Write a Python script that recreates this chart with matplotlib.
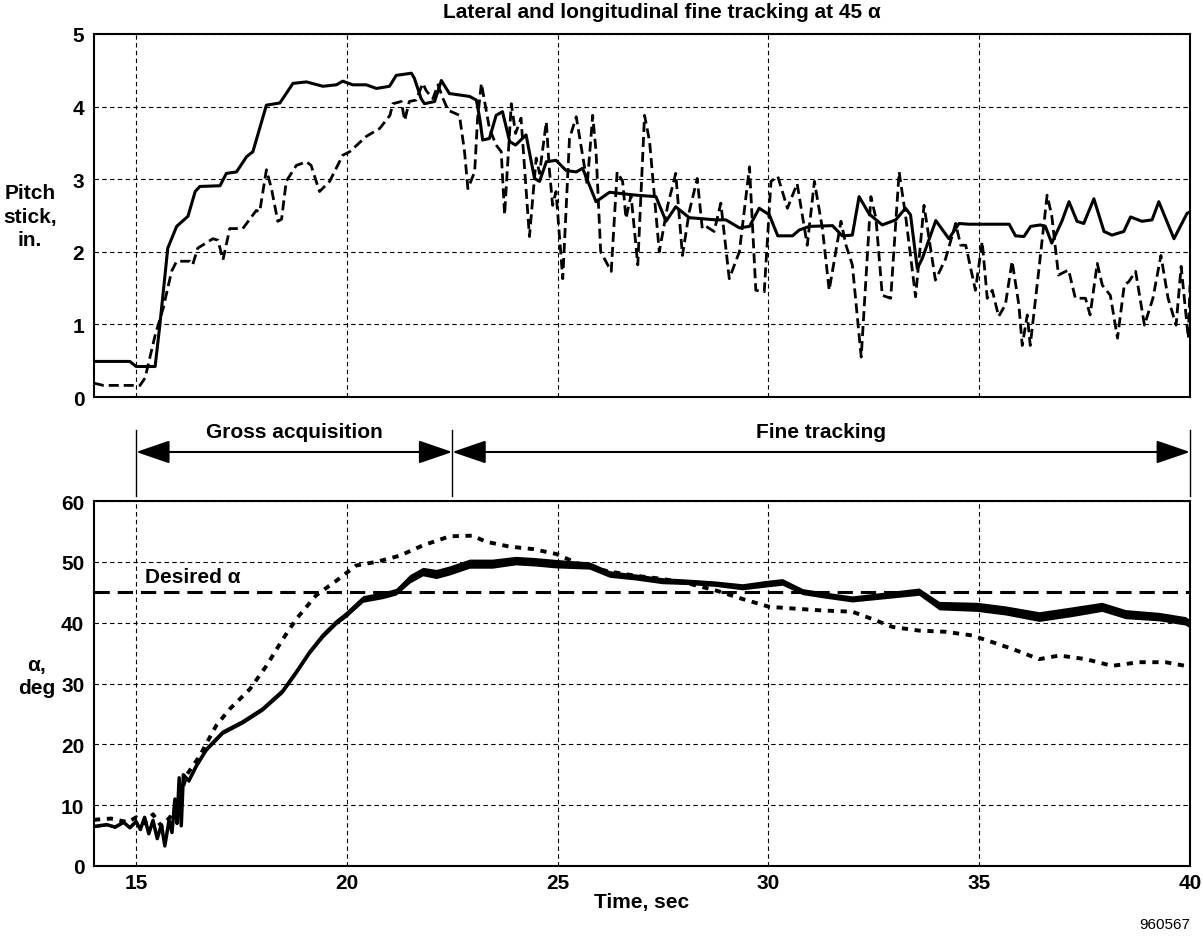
import matplotlib
matplotlib.use("Agg")
import matplotlib.pyplot as plt
import numpy as np

plt.rcParams['font.family'] = ['Liberation Sans', 'DejaVu Sans']
plt.rcParams['font.weight'] = 'bold'

# pitch stick, solid trace (in.)
stick_solid_t = [14.0, 14.85, 15.0, 15.45, 15.56, 15.75, 15.96, 16.23, 16.4, 16.51, 16.99, 17.14,
                 17.38, 17.62, 17.77, 18.09, 18.41, 18.72, 19.04, 19.43, 19.75, 19.9, 20.14, 20.46,
                 20.7, 21.01, 21.17, 21.53, 21.6, 21.76, 21.84, 22.08, 22.24, 22.43, 22.91, 23.07,
                 23.15, 23.22, 23.38, 23.54, 23.69, 23.86, 24.0, 24.25, 24.45, 24.57, 24.73, 24.96,
                 25.2, 25.44, 25.59, 25.91, 26.23, 26.86, 27.33, 27.57, 27.8, 28.12, 28.75, 28.99,
                 29.31, 29.55, 29.78, 30.02, 30.22, 30.57, 30.73, 30.97, 31.52, 31.75, 31.99, 32.15,
                 32.39, 32.7, 33.02, 33.25, 33.37, 33.53, 33.65, 33.97, 34.28, 34.52, 34.76, 35.71,
                 35.86, 36.06, 36.22, 36.45, 36.57, 36.72, 36.96, 37.13, 37.32, 37.48, 37.72, 37.96,
                 38.15, 38.43, 38.59, 38.86, 39.1, 39.26, 39.62, 39.93, 40.0]
stick_solid = [0.49, 0.49, 0.42, 0.42, 0.98, 2.05, 2.35, 2.49, 2.83, 2.90, 2.91, 3.08,
               3.10, 3.31, 3.38, 4.02, 4.05, 4.32, 4.34, 4.28, 4.30, 4.35, 4.30, 4.30,
               4.25, 4.28, 4.43, 4.46, 4.39, 4.11, 4.04, 4.07, 4.36, 4.18, 4.14, 4.09,
               3.84, 3.54, 3.56, 3.88, 3.93, 3.52, 3.47, 3.61, 3.01, 2.97, 3.24, 3.26,
               3.12, 3.10, 3.15, 2.69, 2.82, 2.78, 2.76, 2.42, 2.62, 2.47, 2.44, 2.44,
               2.33, 2.35, 2.60, 2.51, 2.22, 2.22, 2.30, 2.35, 2.36, 2.22, 2.23, 2.76,
               2.52, 2.37, 2.44, 2.60, 2.51, 1.77, 1.91, 2.43, 2.18, 2.39, 2.38, 2.38,
               2.22, 2.21, 2.35, 2.37, 2.35, 2.12, 2.42, 2.69, 2.42, 2.39, 2.73, 2.28,
               2.23, 2.28, 2.48, 2.42, 2.44, 2.69, 2.18, 2.53, 2.55]

# pitch stick, dashed trace (in.)
stick_dash_t = [14.0, 14.22, 15.09, 15.21, 15.45, 15.64, 15.84, 15.96, 16.27, 16.34, 16.46, 16.82,
                16.94, 17.06, 17.22, 17.53, 17.85, 17.93, 18.09, 18.21, 18.36, 18.45, 18.56, 18.8,
                19.04, 19.15, 19.35, 19.59, 19.9, 20.07, 20.46, 20.78, 21.02, 21.09, 21.29, 21.37,
                21.48, 21.64, 21.8, 21.88, 22.04, 22.16, 22.28, 22.4, 22.67, 22.79, 22.87, 23.03,
                23.1, 23.19, 23.38, 23.54, 23.66, 23.74, 23.9, 24.0, 24.13, 24.33, 24.49, 24.57,
                24.73, 24.8, 24.88, 24.96, 25.12, 25.28, 25.44, 25.63, 25.7, 25.83, 25.91, 26.02,
                26.27, 26.41, 26.54, 26.62, 26.74, 26.9, 27.06, 27.18, 27.41, 27.61, 27.8, 27.96,
                28.12, 28.31, 28.43, 28.52, 28.71, 28.87, 29.07, 29.31, 29.55, 29.7, 29.9, 30.06,
                30.22, 30.45, 30.68, 30.92, 31.09, 31.28, 31.44, 31.72, 31.84, 31.99, 32.2, 32.43,
                32.55, 32.7, 32.9, 33.1, 33.25, 33.49, 33.69, 33.96, 34.2, 34.44, 34.56, 34.68,
                34.91, 35.07, 35.19, 35.31, 35.46, 35.62, 35.78, 35.94, 36.02, 36.14, 36.21, 36.41,
                36.61, 36.72, 36.88, 37.12, 37.28, 37.52, 37.63, 37.8, 37.92, 38.11, 38.28, 38.44,
                38.55, 38.71, 38.92, 39.12, 39.31, 39.48, 39.67, 39.79, 39.96, 40.0]
stick_dash = [0.19, 0.16, 0.16, 0.26, 0.85, 1.22, 1.73, 1.87, 1.87, 1.82, 2.05, 2.18,
              2.16, 1.89, 2.32, 2.32, 2.57, 2.55, 3.13, 2.87, 2.42, 2.45, 2.97, 3.19,
              3.24, 3.19, 2.83, 2.97, 3.33, 3.38, 3.59, 3.70, 3.88, 4.04, 4.07, 3.81,
              4.07, 4.09, 4.32, 4.22, 4.11, 4.30, 4.11, 3.95, 3.88, 3.38, 2.87, 3.10,
              3.84, 4.32, 3.70, 3.47, 3.38, 2.51, 4.04, 3.63, 3.84, 2.21, 3.29, 3.08,
              3.79, 3.15, 2.64, 2.83, 1.63, 3.56, 3.86, 3.19, 2.92, 3.88, 3.38, 2.00,
              1.73, 3.10, 2.97, 2.46, 2.78, 1.82, 3.88, 3.52, 2.00, 2.64, 3.08, 1.95,
              2.55, 3.01, 2.32, 2.35, 2.28, 2.67, 1.63, 2.00, 3.17, 1.47, 1.45, 2.97,
              3.04, 2.60, 2.94, 2.09, 2.97, 2.32, 1.47, 2.42, 2.09, 1.82, 0.55, 2.76,
              2.46, 1.40, 1.36, 3.10, 2.51, 1.38, 2.64, 1.61, 1.90, 2.39, 2.09, 2.09,
              1.47, 2.14, 1.36, 1.47, 1.11, 1.27, 1.87, 1.27, 0.71, 1.13, 0.71, 1.73,
              2.78, 2.50, 1.68, 1.75, 1.36, 1.36, 1.13, 1.84, 1.54, 1.40, 0.81, 1.54,
              1.59, 1.73, 0.99, 1.36, 1.95, 1.36, 0.99, 1.80, 0.81, 1.54]

# angle of attack, solid trace (deg) and thickness of its noise band
alpha_solid_t = [14.0, 14.3, 14.5, 14.7, 14.85, 15.0, 15.1, 15.2, 15.3, 15.4, 15.5, 15.6, 15.68,
                 15.78, 15.85, 15.92, 15.97, 16.02, 16.07, 16.12, 16.25, 16.43, 16.67, 17.06,
                 17.53, 18.0, 18.48, 18.8, 19.12, 19.43, 19.75, 19.99, 20.38, 20.85, 21.17, 21.49,
                 21.8, 22.12, 22.44, 22.91, 23.45, 24.0, 24.48, 24.95, 25.75, 26.23, 26.86, 27.48,
                 28.12, 28.75, 29.38, 29.94, 30.33, 30.81, 31.37, 31.99, 32.78, 33.57, 34.05,
                 34.95, 35.63, 36.42, 37.2, 37.91, 38.47, 39.26, 39.89, 40.0]
alpha_solid = [6.5, 6.8, 6.4, 7.2, 6.3, 7.3, 6.0, 8.0, 5.3, 7.5, 4.5, 6.8, 3.3,
               7.5, 5.5, 11.0, 7.0, 14.5, 6.6, 15.0, 14.0, 16.5, 19.2, 22.0,
               23.7, 25.8, 28.8, 31.9, 35.2, 37.9, 40.1, 41.4, 43.9, 44.5, 45.1, 47.2,
               48.4, 48.0, 48.6, 49.7, 49.7, 50.2, 50.0, 49.7, 49.4, 48.0, 47.5, 46.9,
               46.7, 46.4, 45.9, 46.4, 46.7, 45.1, 44.5, 43.9, 44.5, 45.1, 42.8,
               42.6, 42.0, 41.0, 41.8, 42.6, 41.4, 41.0, 40.3, 39.8]
alpha_band = [0.4, 0.4, 0.4, 0.4, 0.4, 0.4, 0.4, 0.4, 0.4, 0.4, 0.4, 0.4, 0.4,
              0.4, 0.4, 0.4, 0.4, 0.4, 0.4, 0.4, 0.6, 0.7, 0.7, 0.7,
              0.7, 0.7, 0.8, 0.8, 0.8, 0.9, 0.9, 1.0, 1.1, 1.1, 1.1, 1.4,
              1.4, 1.5, 1.5, 1.5, 1.5, 1.4, 1.4, 1.4, 1.2, 1.1, 1.0, 1.0,
              0.9, 0.9, 1.0, 1.1, 1.1, 1.0, 1.0, 1.0, 1.1, 1.2, 1.4,
              1.5, 1.5, 1.6, 1.6, 1.5, 1.5, 1.4, 1.4, 1.4]

# angle of attack, dashed trace (deg)
alpha_dash_t = [14.0, 14.4, 14.8, 15.0, 15.2, 15.4, 15.6, 15.8, 16.0, 16.2, 16.5, 16.9, 17.22,
                17.7, 18.09, 18.48, 18.8, 19.27, 19.75, 20.22, 20.7, 21.25, 21.8, 22.44, 22.98,
                23.3, 23.86, 24.41, 24.96, 25.59, 26.23, 26.86, 27.48, 28.12, 28.75, 29.38,
                30.02, 30.65, 31.28, 31.99, 32.46, 32.94, 33.57, 34.2, 34.83, 35.31, 35.78,
                36.42, 36.9, 37.53, 38.15, 38.79, 39.42, 39.89, 40.0]
alpha_dash = [7.6, 7.8, 7.2, 8.0, 7.0, 8.5, 6.5, 8.0, 10.5, 15.0, 18.0, 23.1, 25.8,
              29.1, 32.9, 37.3, 40.6, 44.5, 46.9, 49.4, 50.0, 51.0, 52.7, 54.2, 54.3,
              53.3, 52.5, 52.1, 51.3, 49.4, 48.4, 47.7, 47.2, 46.4, 45.3, 43.9,
              42.6, 42.3, 42.0, 41.8, 40.6, 39.3, 38.7, 38.5, 37.9, 36.8, 35.7,
              34.0, 34.6, 34.0, 32.9, 33.5, 33.5, 32.9, 32.5]

desired_alpha = 45
phase_edges = [15, 22.5, 40]
phase_names = ["Gross acquisition", "Fine tracking"]

W, H = 1203, 937
fig = plt.figure(figsize=(W / 100, H / 100), dpi=100)

def box(l, t, r, b):
    return [l / W, 1 - b / H, (r - l) / W, (b - t) / H]

grid_kw = dict(color='black', linestyle=(0, (4, 3)), linewidth=0.8)
FS = 15

def style(ax):
    for s in ax.spines.values():
        s.set_linewidth(1.5)
    ax.tick_params(length=0, labelsize=FS, pad=7)
    ax.set_xlim(14, 40)
    ax.set_xticks([15, 20, 25, 30, 35, 40])
    ax.grid(True, **grid_kw)
    ax.set_axisbelow(True)

ax1 = fig.add_axes(box(94, 35, 1190, 398))
style(ax1)
ax1.set_ylim(0, 5)
ax1.set_yticks(range(6))
ax1.set_xticklabels([])
ax1.plot(stick_dash_t, stick_dash, color='black', lw=2.0, dashes=(3.6, 1.8))
ax1.plot(stick_solid_t, stick_solid, color='black', lw=2.2, solid_joinstyle='round')

ax2 = fig.add_axes(box(94, 502, 1190, 867))
style(ax2)
ax2.set_ylim(0, 60)
ax2.set_yticks(range(0, 61, 10))
ax2.tick_params(axis='x', pad=5)
ax2.axhline(desired_alpha, color='black', lw=2.2, dashes=(5, 2.6))
ax2.text(15.2, 47.6, "Desired \u03b1", fontsize=FS, fontweight='bold', va='center')
lo = np.array(alpha_solid) - np.array(alpha_band) / 2
hi = np.array(alpha_solid) + np.array(alpha_band) / 2
ax2.fill_between(alpha_solid_t, lo, hi, color='black', lw=0)
ax2.plot(alpha_solid_t, alpha_solid, color='black', lw=2.5)
ax2.plot(alpha_dash_t, alpha_dash, color='black', lw=2.8, dashes=(1.6, 1.7))
ax2.set_xlabel("Time, sec", fontsize=FS, fontweight='bold', labelpad=0)

# phase annotation strip
ax3 = fig.add_axes(box(94, 431, 1190, 497))
ax3.set_xlim(14, 40)
ax3.set_ylim(0, 1)
ax3.axis('off')
for x in phase_edges:
    ax3.plot([x, x], [0, 1], color='black', lw=1.0, clip_on=False)
arrow_y = 0.667
for i, name in enumerate(phase_names):
    a, b = phase_edges[i], phase_edges[i + 1]
    ax3.annotate('', xy=(b, arrow_y), xytext=(a, arrow_y),
                 arrowprops=dict(arrowstyle='<|-|>,head_length=1.05,head_width=0.36',
                                 mutation_scale=20, color='black', lw=1.5,
                                 shrinkA=0, shrinkB=0))
    ax3.text((a + b) / 2, 0.97, name, ha='center', va='center', fontsize=FS, fontweight='bold')

fig.text(662 / W, 1 - 12 / H, "Lateral and longitudinal fine tracking at 45 \u03b1",
         ha='center', va='center', fontsize=FS, fontweight='bold')
fig.text(30 / W, 1 - 217 / H, "Pitch\nstick,\nin.", ha='center', va='center',
         fontsize=FS, fontweight='bold', linespacing=1.3)
fig.text(37 / W, 1 - 677 / H, "\u03b1,\ndeg", ha='center', va='center',
         fontsize=FS, fontweight='bold', linespacing=1.3)
fig.text(1165 / W, 1 - 925 / H, "960567", ha='center', va='center',
         fontsize=11, fontweight='normal')

fig.savefig("out.png", dpi=100)
